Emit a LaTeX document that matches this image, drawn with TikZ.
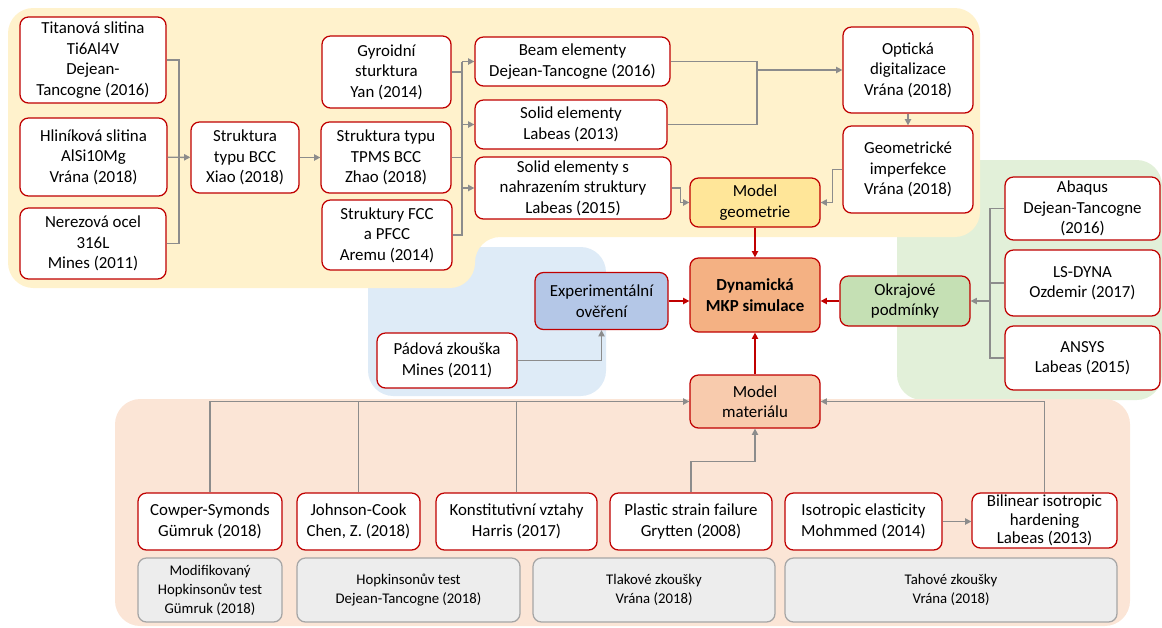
\documentclass[tikz,border=0pt]{standalone}
\usepackage{fontspec}
\setmainfont{Carlito}
\usepackage{tikz}
\usetikzlibrary{arrows.meta,calc,positioning}
\definecolor{boxred}{HTML}{C00000}
\definecolor{linegray}{HTML}{8C8C8C}
\definecolor{bgyellow}{HTML}{FFF2CC}
\definecolor{bggreen}{HTML}{E2F0D9}
\definecolor{bgblue}{HTML}{DEEBF7}
\definecolor{bgsalmon}{HTML}{FBE5D6}
\definecolor{geofill}{HTML}{FFE699}
\definecolor{simfill}{HTML}{F4B183}
\definecolor{expfill}{HTML}{B4C7E7}
\definecolor{bcfill}{HTML}{C5E0B4}
\definecolor{matfill}{HTML}{F8CBAD}
\definecolor{testgray}{HTML}{EDEDED}
\tikzset{
  box/.style={draw=boxred, fill=white, line width=0.9pt, rounded corners=6pt, align=center, inner sep=1pt, font=\fontsize{12}{14.6}\selectfont},
  boxsize/.style 2 args={minimum width=#1*0.025cm, minimum height=#2*0.025cm},
  testbox/.style={draw=gray!70, fill=testgray, line width=0.9pt, rounded corners=6pt, align=center, inner sep=1pt, font=\fontsize{10.5}{13.5}\selectfont},
  link/.style={draw=linegray, line width=1pt},
  conn/.style={link, -{Triangle[length=4.5pt,width=4.5pt]}},
  rconn/.style={draw=boxred, line width=1pt, -{Triangle[length=4.5pt,width=4.5pt]}},
  area/.style={rounded corners=18pt}
}

\begin{document}
\begin{tikzpicture}[x=0.025cm, y=-0.025cm]
  \useasboundingbox (0,0) rectangle (1162,627);
  % background areas
  \fill[bggreen, area] (897,160) rectangle (1162,400);
  \fill[bgblue, area] (368,247) rectangle (606,396);
  \fill[bgsalmon, area] (115,399) rectangle (1130,626);
  \fill[bgyellow, area] (8,8) -- (980,8) -- (980,237) -- (475,237) -- (475,288) -- (8,288) -- cycle;

  % geometry
  \node[box, boxsize={146}{86}] (tit) at (93,60) {Titanová slitina\\Ti6Al4V\\Dejean-\\Tancogne (2016)};
  \node[box, boxsize={147}{78}] (hli) at (93.5,157) {Hliníková slitina\\AlSi10Mg\\Vrána (2018)};
  \node[box, boxsize={146}{71}] (ner) at (93,243.5) {Nerezová ocel\\316L\\Mines (2011)};
  \node[box, boxsize={108}{71}] (bcc) at (245,157.5) {Struktura\\typu BCC\\Xiao (2018)};
  \node[box, boxsize={129}{72}] (gyr) at (386.5,72) {Gyroidní\\sturktura\\Yan (2014)};
  \node[box, boxsize={130}{71}] (tpms) at (386,157.5) {Struktura typu\\TPMS BCC\\Zhao (2018)};
  \node[box, boxsize={130}{70}] (fcc) at (387,235) {Struktury FCC\\a PFCC\\Aremu (2014)};
  \node[box, boxsize={195}{49}] (beam) at (572.5,61.5) {Beam elementy\\Dejean-Tancogne (2016)};
  \node[box, boxsize={192}{49}] (solid) at (571,124.5) {Solid elementy\\Labeas (2013)};
  \node[box, boxsize={196}{62}] (solidn) at (573,188) {Solid elementy s\\nahrazením struktury\\Labeas (2015)};
  \node[box, boxsize={130}{86}] (opt) at (908,70) {Optická\\digitalizace\\Vrána (2018)};
  \node[box, boxsize={130}{87}] (geom) at (908,169.5) {Geometrické\\imperfekce\\Vrána (2018)};
  \node[box, fill=geofill, boxsize={130}{49}] (mgeo) at (755,202.5) {Model\\geometrie};

  % simulation
  \node[box, fill=simfill, boxsize={130}{74}, font=\fontsize{12}{14.6}\selectfont\bfseries] (dyn) at (755,295) {Dynamická\\MKP simulace};
  \node[box, fill=expfill, boxsize={133}{57}] (exp) at (601.5,301) {Experimentální\\ověření};
  \node[box, boxsize={140}{55}] (pad) at (447,360.5) {Pádová zkouška\\Mines (2011)};
  \node[box, fill=bcfill, boxsize={130}{50}] (okr) at (905,301) {Okrajové\\podmínky};
  \node[box, boxsize={155}{63}] (aba) at (1082.5,208.5) {Abaqus\\Dejean-Tancogne\\(2016)};
  \node[box, boxsize={155}{66}] (lsd) at (1082.5,283) {LS-DYNA\\Ozdemir (2017)};
  \node[box, boxsize={155}{64}] (ans) at (1082.5,358) {ANSYS\\Labeas (2015)};

  % material
  \node[box, fill=matfill, boxsize={130}{53}] (mmat) at (755,401.5) {Model\\materiálu};
  \node[box, boxsize={144}{57}] (cow) at (210,521.5) {Cowper-Symonds\\Gümruk (2018)};
  \node[box, boxsize={123}{57}] (joh) at (358.5,521.5) {Johnson-Cook\\Chen, Z. (2018)};
  \node[box, boxsize={161}{57}] (kon) at (516.5,521.5) {Konstitutivní vztahy\\Harris (2017)};
  \node[box, boxsize={162}{57}] (pla) at (691,521.5) {Plastic strain failure\\Grytten (2008)};
  \node[box, boxsize={157}{57}] (iso) at (863.5,521.5) {Isotropic elasticity\\Mohmmed (2014)};
  \node[box, boxsize={145}{55}, font=\fontsize{12}{13.2}\selectfont] (bil) at (1044.5,520.5) {Bilinear isotropic\\hardening\\Labeas (2013)};
  \node[testbox, boxsize={144}{64}] (tst1) at (210,590) {Modifikovaný\\Hopkinsonův test\\Gümruk (2018)};
  \node[testbox, boxsize={223}{64}] (tst2) at (408.5,590) {Hopkinsonův test\\Dejean-Tancogne (2018)};
  \node[testbox, boxsize={242}{64}] (tst3) at (654,590) {Tlakové zkoušky\\Vrána (2018)};
  \node[testbox, boxsize={332}{64}] (tst4) at (951,590) {Tahové zkoušky\\Vrána (2018)};

  % junctions
  \coordinate (jl) at (179,157.5);
  \coordinate (jm) at (462,61.5);
  \coordinate (jo) at (757,70);
  \coordinate (jr) at (990,301);

  % connectors
  \draw[link] (tit) -| (jl);
  \draw[link] (ner) -| (jl);
  \draw[conn] (hli) -- (bcc);
  \draw[conn] (bcc) -- (tpms);
  \draw[link] (gyr) -| (jm);
  \draw[link] (tpms) -| (jm);
  \draw[link] (fcc) -| (jm);
  \draw[conn] (jm) -- (beam);
  \draw[conn] (jm |- solid) -- (solid);
  \draw[conn] (jm |- solidn) -- (solidn);
  \draw[link] (beam) -| (jo);
  \draw[link] (solid) -| (jo);
  \draw[conn] (jo) -- (opt);
  \draw[conn] (opt) -- (geom);
  \draw[conn] (solidn.east) -- ++(9,0) |- (mgeo);
  \draw[conn] (geom.west) -- ++(-10,0) |- (mgeo);
  \draw[rconn] (mgeo) -- (dyn);
  \draw[rconn] (exp) -- (exp -| dyn.west);
  \draw[rconn] (okr) -- (okr -| dyn.east);
  \draw[rconn] (mmat) -- (dyn);
  \draw[conn] (pad) -| (exp);
  \draw[link] (aba) -| (jr);
  \draw[link] (lsd) -| (jr);
  \draw[link] (ans) -| (jr);
  \draw[conn] (jr) -- (okr);
  \draw[conn] (cow) |- (mmat);
  \draw[link] (joh) -- (joh |- mmat);
  \draw[link] (kon) -- (kon |- mmat);
  \draw[conn] (bil) |- (mmat);
  \draw[conn] (pla.north) -- ++(0,-31) -| (mmat);
  \draw[conn] (iso.east) -- (iso.east -| bil.west);
\end{tikzpicture}
\end{document}
